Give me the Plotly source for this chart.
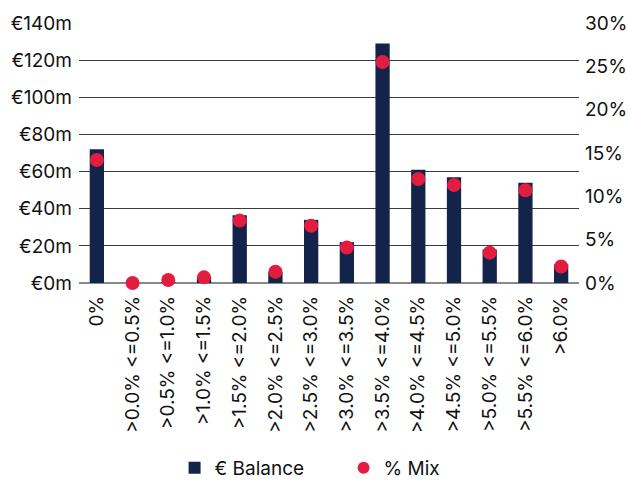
import plotly.graph_objects as go

# Interest-rate buckets
categories = [
    "0%", ">0.0% <=0.5%", ">0.5% <=1.0%", ">1.0% <=1.5%", ">1.5% <=2.0%",
    ">2.0% <=2.5%", ">2.5% <=3.0%", ">3.0% <=3.5%", ">3.5% <=4.0%",
    ">4.0% <=4.5%", ">4.5% <=5.0%", ">5.0% <=5.5%", ">5.5% <=6.0%", ">6.0%",
]
# Outstanding balance per bucket (EUR millions)
balance_m = [72, 0, 0.3, 3, 36.5, 6, 34, 22, 129, 61, 57, 18, 54, 10]
# Share of total balance per bucket (%)
mix_pct = [14.2, 0.0, 0.35, 0.65, 7.2, 1.3, 6.6, 4.1, 25.5, 12.0, 11.3, 3.5, 10.7, 1.9]

left_ticks = [0, 20, 40, 60, 80, 100, 120, 140]
right_ticks = [0, 5, 10, 15, 20, 25, 30]

NAVY = "#13234A"
RED = "#E31D3F"
FONT = dict(family="Inter", size=19, color="#111111")

fig = go.Figure()
fig.add_trace(go.Bar(
    x=categories, y=balance_m, name="€ Balance",
    marker=dict(color=NAVY, line=dict(width=0)),
    width=0.4, yaxis="y",
))
fig.add_trace(go.Scatter(
    x=categories, y=mix_pct, name="% Mix", mode="markers",
    marker=dict(color=RED, size=14, line=dict(width=0)),
    yaxis="y2", cliponaxis=False,
))

fig.update_layout(
    width=628, height=481,
    margin=dict(l=79, r=49, t=23, b=198, autoexpand=False),
    paper_bgcolor="white", plot_bgcolor="white",
    font=FONT,
    showlegend=True,
    legend=dict(
        orientation="h", xref="container", yref="container",
        x=0.278, xanchor="left", y=0.027, yanchor="middle",
        font=FONT,
        itemsizing="constant", traceorder="normal",
        entrywidth=124, entrywidthmode="pixels",
    ),
    xaxis=dict(
        type="category", tickangle=-90, showgrid=False, showline=False,
        zeroline=False, ticks="", ticklabelstandoff=8, automargin=False,
        range=[-0.5, len(categories) - 0.5],
    ),
    yaxis=dict(
        range=[0, 140], tickvals=left_ticks,
        ticktext=[f"€{v}m" for v in left_ticks],
        showgrid=True, gridcolor="#3c3c3c", gridwidth=1,
        zeroline=True, zerolinecolor="#8a8a8a", zerolinewidth=1.5,
        showline=False, ticks="", ticklabelstandoff=6, automargin=False,
    ),
    yaxis2=dict(
        range=[0, 30], tickvals=right_ticks,
        ticktext=[f"{v}%" for v in right_ticks],
        overlaying="y", side="right", showgrid=False, zeroline=False,
        showline=False, ticks="", ticklabelstandoff=5, automargin=False,
    ),
)

fig.write_html("out.html")
